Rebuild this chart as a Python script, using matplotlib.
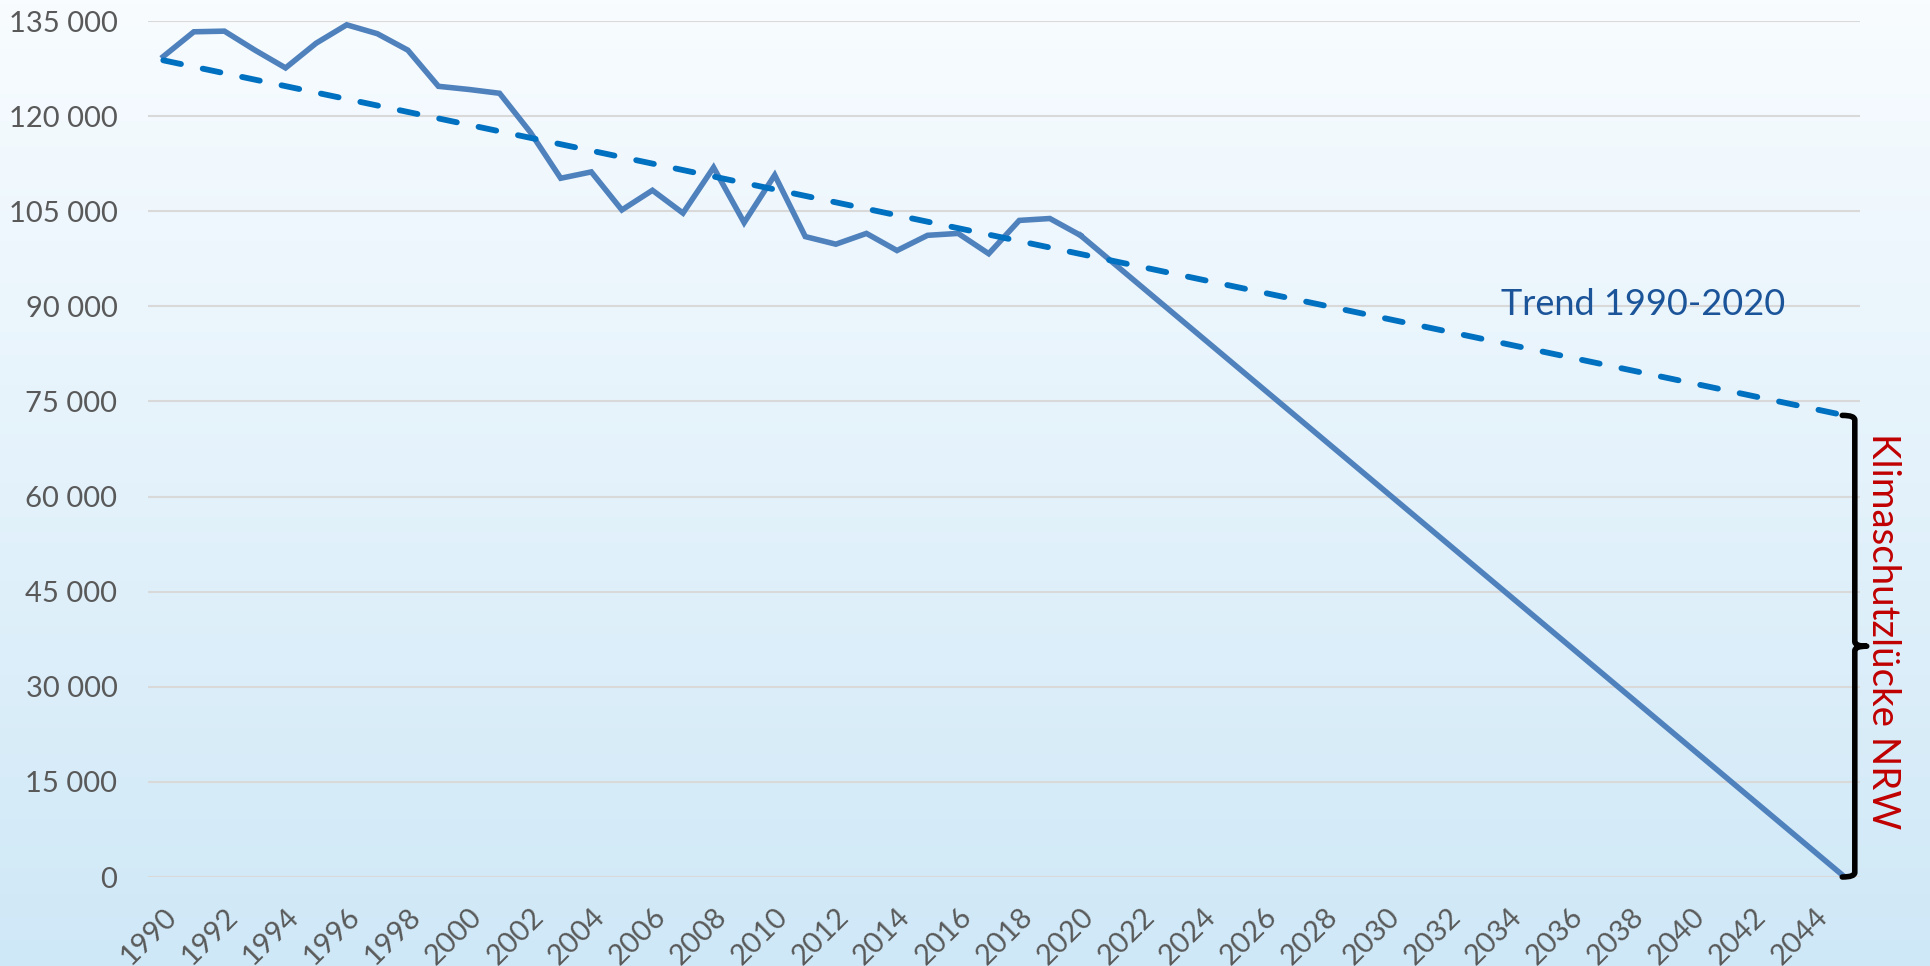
import numpy as np
import matplotlib.pyplot as plt
from matplotlib.path import Path
from matplotlib.patches import PathPatch

plt.rcParams['font.family'] = ['Lato', 'DejaVu Sans']
plt.rcParams['lines.scale_dashes'] = False

# Emissions NRW, 1990-2020
years_hist = list(range(1990, 2021))
emissions = [129400, 133300, 133400, 130400, 127600, 131500, 134400, 133000,
             130400, 124700, 124200, 123600, 117500, 110200, 111200, 105200,
             108300, 104700, 111900, 103200, 110700, 101000, 99800, 101500,
             98800, 101200, 101500, 98300, 103550, 103850, 101200]

# path to zero in 2045
target_years = [2020, 2045]
target_values = [101200, 0]

# linear trend 1990-2020, extended to 2045
trend_years = [1990, 2045]
trend_values = [128800, 72800]

ytick_values = list(range(0, 135001, 15000))
xtick_years = list(range(1990, 2045, 2))

fig = plt.figure(figsize=(19.31, 9.66), dpi=100)

# background gradient
bg = fig.add_axes([0, 0, 1, 1], zorder=-10)
grad = np.linspace(0, 1, 256).reshape(-1, 1)
top = np.array([248, 252, 255]) / 255
bot = np.array([207, 232, 247]) / 255
img = top[None, None, :] * (1 - grad[:, :, None]) + bot[None, None, :] * grad[:, :, None]
bg.imshow(img, aspect='auto', extent=[0, 1, 0, 1])
bg.axis('off')

ax = fig.add_axes([148 / 1931, 1 - 877 / 966, (1860 - 148) / 1931, (877 - 21) / 966])
ax.set_facecolor('none')

ax.plot(years_hist, emissions, color='#4F81BD', lw=4.0, solid_joinstyle='miter', zorder=3)
ax.plot(target_years, target_values, color='#4F81BD', lw=4.0, zorder=3)
ax.plot(trend_years, trend_values, color='#0070C0', lw=4.2, dashes=(13, 16),
        dash_capstyle='round', zorder=4)

ax.set_xlim(1989.5, 2045.5)
ax.set_ylim(0, 135000)
ax.set_yticks(ytick_values)
ax.set_yticklabels([f"{v:,}".replace(",", " ") for v in ytick_values])
ax.set_xticks(xtick_years)
ax.set_xticklabels([str(y) for y in xtick_years], rotation=45, ha='right', va='top',
                   rotation_mode='anchor')
ax.tick_params(axis='y', length=0, pad=22, labelsize=21, labelcolor='#595959')
ax.tick_params(axis='x', length=0, pad=19, labelsize=21, labelcolor='#595959')
ax.grid(axis='y', color='#D9D9D9', lw=1.5, zorder=0)
ax.set_axisbelow(True)
for s in ax.spines.values():
    s.set_visible(False)

# bracket marking the gap
x0, xl, xr = 2045.33, 2044.92, 2045.72
ytop, ybot = trend_values[-1], 0
ymid = (ytop + ybot) / 2
r = 700
verts = [(xl, ytop), (x0, ytop), (x0, ytop - r),
         (x0, ymid + r), (x0, ymid), (xr, ymid),
         (x0, ymid), (x0, ymid - r),
         (x0, ybot + r), (x0, ybot), (xl, ybot)]
codes = [Path.MOVETO, Path.CURVE3, Path.CURVE3,
         Path.LINETO, Path.CURVE3, Path.CURVE3,
         Path.CURVE3, Path.CURVE3,
         Path.LINETO, Path.CURVE3, Path.CURVE3]
ax.add_patch(PathPatch(Path(verts, codes), fill=False, lw=4.0, color='black',
                       capstyle='round', joinstyle='round', clip_on=False, zorder=5))

ax.text(2038.4, 90300, "Trend 1990-2020", color='#1B5499', fontsize=26,
        ha='center', va='center')
ax.text(2046.25, 38800, "Klimaschutzlücke NRW", color='#C00000', fontsize=27.7,
        rotation=-90, ha='center', va='center', clip_on=False)

fig.savefig('out.png', dpi=100)
